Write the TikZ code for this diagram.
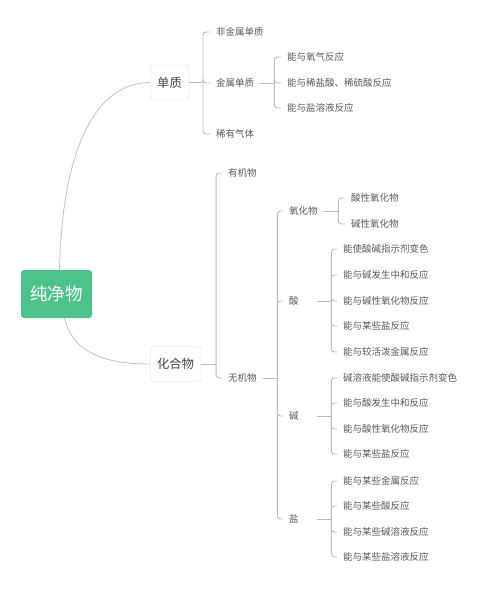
\documentclass[tikz,border=0pt]{standalone}
\usepackage{fontspec}
\setmainfont{Noto Sans CJK SC}
\usetikzlibrary{calc}
\definecolor{mint}{HTML}{4FC28B}
\definecolor{wire}{HTML}{BDBDBD}
\definecolor{edge}{HTML}{DCDCDC}
\definecolor{ink}{HTML}{5A5A5A}
\definecolor{inkdark}{HTML}{444444}
\newcommand{\leaf}[4]{%
  \node[leaf] (#1) at (#2,#3) {#4};
}
\newcommand{\branch}[3]{%
  \draw[wire] (#1.east) -- ++(#2,0) coordinate (#1-fork);
  \foreach \kid in {#3}
    \draw[wire,rounded corners=3pt] (#1-fork) |- (\kid.west);
}

\begin{document}
\begin{tikzpicture}[x=1pt,y=-1pt,
    rootbox/.style={fill=mint,rounded corners=3pt,minimum width=71pt,minimum height=48pt,
      text=white,font=\fontsize{17.5}{20}\selectfont},
    topic/.style={draw=edge,fill=white,rounded corners=3pt,minimum height=35pt,inner xsep=7pt,
      text=inkdark,font=\fontsize{12.3}{14}\selectfont},
    leaf/.style={anchor=west,inner xsep=6pt,inner ysep=1pt,text height=8.2pt,text depth=1.2pt,
      text=ink,font=\fontsize{9.5}{11}\selectfont},
    mid/.style={leaf,text width=22pt,align=left},
    wire/.style={draw=wire,line width=0.9pt},
    curve/.style={draw=wire!85,line width=0.9pt}]
  \useasboundingbox (0,0) rectangle (488,592);

  % main topics
  \node[rootbox] (root) at (56.5,294) {纯净物};
  \node[topic] (dz) at (169.5,82.5) {单质};
  \node[topic] (hhw) at (175.5,364) {化合物};
  \draw[curve] ([xshift=3pt]root.north) .. controls (62,150) and (95,82.5) .. (dz.west);
  \draw[curve] ([xshift=8pt]root.south) .. controls (72,350) and (100,364) .. (hhw.west);

  % 单质
  \leaf{fjs}{210}{32}{非金属单质}
  \leaf{jsdz}{210}{83}{金属单质}
  \leaf{xyqt}{210}{134}{稀有气体}
  \branch{dz}{14}{fjs,jsdz,xyqt}
  \leaf{m1}{281}{57}{能与氧气反应}
  \leaf{m2}{281}{83}{能与稀盐酸、稀硫酸反应}
  \leaf{m3}{281}{108}{能与盐溶液反应}
  \branch{jsdz}{14}{m1,m2,m3}

  % 化合物
  \leaf{yjw}{222}{173}{有机物}
  \leaf{wjw}{222}{378}{无机物}
  \branch{hhw}{15}{yjw,wjw}
  \leaf{yhw}{283}{211}{氧化物}
  \node[mid] (suan) at (283,301) {酸};
  \node[mid] (jian) at (283,416) {碱};
  \node[mid] (yan) at (283,519) {盐};
  \branch{wjw}{14.5}{yhw,suan,jian,yan}

  \leaf{o1}{345}{198}{酸性氧化物}
  \leaf{o2}{345}{224}{碱性氧化物}
  \branch{yhw}{14.5}{o1,o2}

  \leaf{a1}{337}{249}{能使酸碱指示剂变色}
  \leaf{a2}{337}{275}{能与碱发生中和反应}
  \leaf{a3}{337}{301}{能与碱性氧化物反应}
  \leaf{a4}{337}{326}{能与某些盐反应}
  \leaf{a5}{337}{352}{能与较活泼金属反应}
  \branch{suan}{14}{a1,a2,a3,a4,a5}

  \leaf{b1}{337}{378}{碱溶液能使酸碱指示剂变色}
  \leaf{b2}{337}{403}{能与酸发生中和反应}
  \leaf{b3}{337}{429}{能与酸性氧化物反应}
  \leaf{b4}{337}{454}{能与某些盐反应}
  \branch{jian}{14}{b1,b2,b3,b4}

  \leaf{s1}{337}{481}{能与某些金属反应}
  \leaf{s2}{337}{506}{能与某些酸反应}
  \leaf{s3}{337}{532}{能与某些碱溶液反应}
  \leaf{s4}{337}{557}{能与某些盐溶液反应}
  \branch{yan}{14}{s1,s2,s3,s4}
\end{tikzpicture}
\end{document}
